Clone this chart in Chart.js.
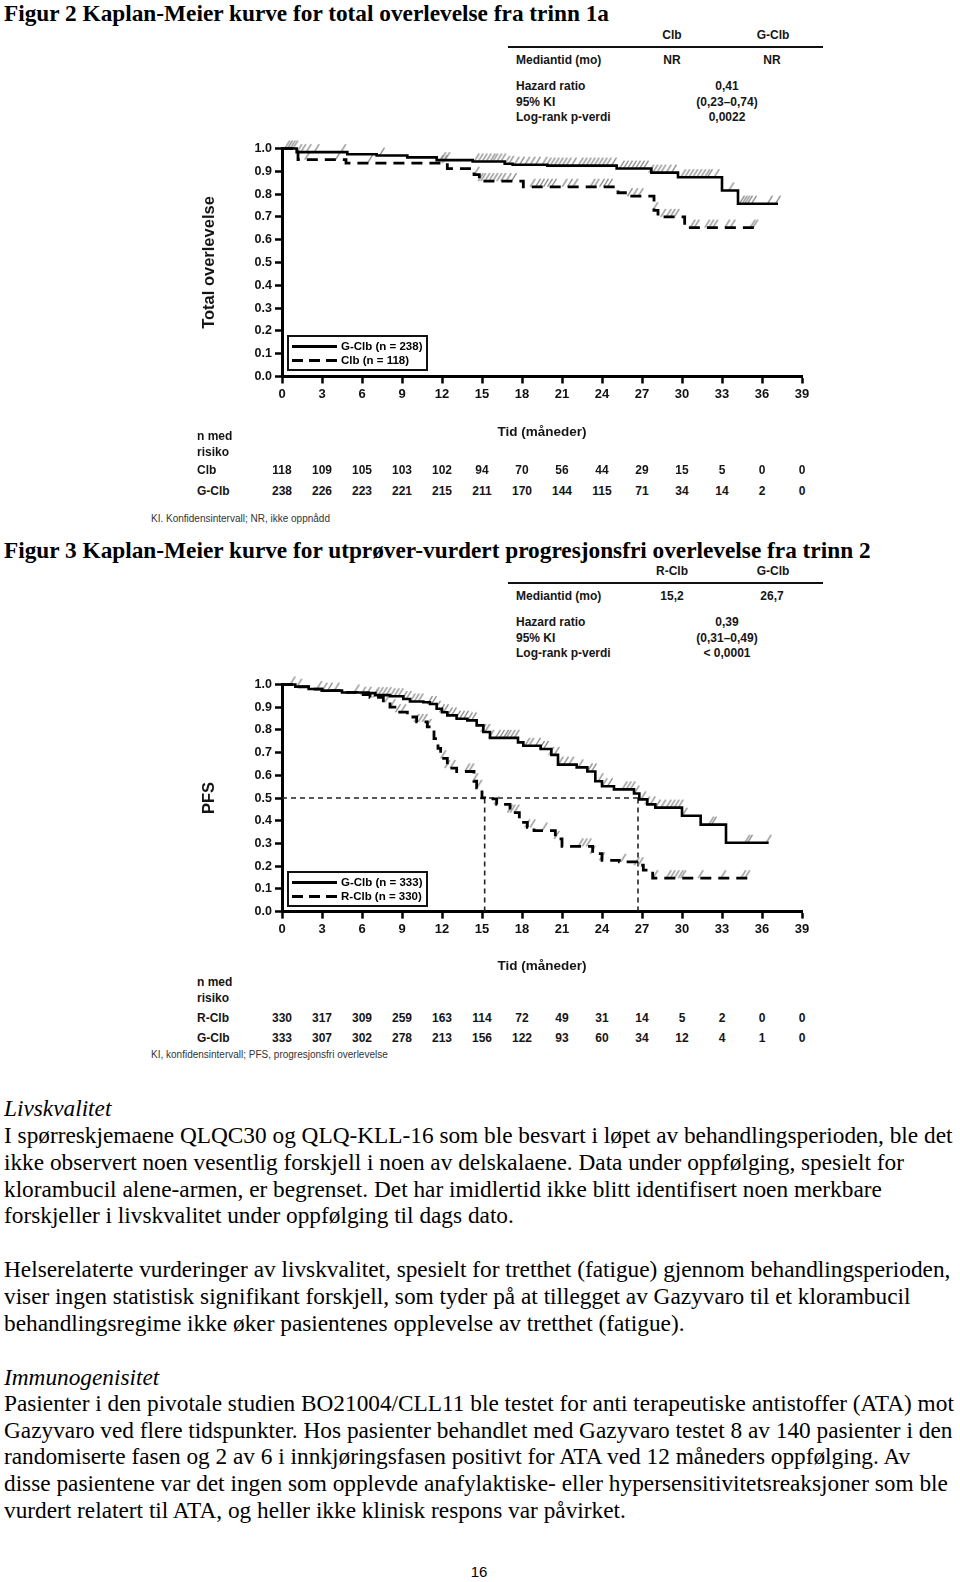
<!DOCTYPE html>
<html>
<head>
<meta charset="utf-8">
<script src="https://cdn.jsdelivr.net/npm/chart.js@4.4.0/dist/chart.umd.min.js"></script>
<style>
  body { margin: 0; background: #fff; }
  #page { position: relative; width: 960px; height: 1582px; overflow: hidden; font-family: "Liberation Serif", "Times New Roman", serif; color: #000; }
  .ab { position: absolute; white-space: nowrap; }
  .fig { font-weight: bold; font-size: 23.3px; line-height: 26px; }
  .txt { font-size: 23.3px; line-height: 26px; }
  .it { font-style: italic; }
  .sb { font-family: "Liberation Sans", Arial, sans-serif; font-weight: bold; font-size: 12px; line-height: 14px; color: #151515; }
  .note { font-family: "Liberation Sans", Arial, sans-serif; font-size: 10px; line-height: 12px; color: #333; }
  .leg { font-family: "Liberation Sans", Arial, sans-serif; font-weight: bold; font-size: 11.5px; line-height: 13px; }
  .pg { font-family: "Liberation Sans", Arial, sans-serif; font-size: 15px; line-height: 17px; }
  canvas { position: absolute; }
</style>
</head>
<body>
<div id="page">
  <canvas id="os" width="640" height="302" style="left:180px; top:138px;"></canvas>
  <canvas id="pfs" width="640" height="300" style="left:180px; top:674px;"></canvas>
</div>
<script>
// Figur 2: total overlevelse (steps: time in months, survival after the drop)
const osGclbTime = [0, 1.1, 4.9, 7.1, 9.4, 11.6, 14.3, 16.7, 17.3, 19.9, 25.1, 27.7, 29.7, 33.0, 34.2, 37.2];
const osGclbSurv = [1.0, 0.984, 0.975, 0.969, 0.961, 0.949, 0.943, 0.933, 0.929, 0.925, 0.912, 0.894, 0.874, 0.816, 0.758, 0.758];
const osClbTime = [0, 1.2, 4.8, 12.4, 14.4, 14.8, 18.1, 25.2, 25.9, 27.9, 28.2, 30.2, 35.5];
const osClbSurv = [1.0, 0.951, 0.936, 0.912, 0.885, 0.857, 0.832, 0.806, 0.791, 0.729, 0.700, 0.653, 0.653];
const osGclbCensor = [0.4, 0.6, 0.8, 1.0, 1.3, 1.6, 2.0, 2.6, 4.6, 7.5, 12.1, 12.4, 14.6, 14.9, 15.2, 15.5, 15.8, 16.0, 16.3, 16.6, 16.9, 17.2, 17.6, 18.0, 18.4, 18.8, 19.2, 19.7, 20.0, 20.3, 20.6, 20.9, 21.2, 21.5, 21.9, 22.4, 22.7, 23.0, 23.3, 23.6, 23.9, 24.2, 24.5, 24.9, 25.5, 25.8, 26.1, 26.4, 26.7, 27.0, 27.3, 27.7, 28.0, 28.3, 28.6, 29.0, 29.4, 30.1, 30.4, 30.7, 31.0, 31.3, 31.6, 31.9, 32.1, 32.6, 33.7, 34.5, 34.7, 34.9, 35.1, 35.4, 36.6, 37.2];
const osClbCensor = [1.9, 4.2, 6.6, 11.9, 12.2, 14.6, 14.9, 15.1, 15.4, 15.7, 16.0, 16.3, 16.6, 17.0, 17.4, 18.8, 19.2, 19.5, 19.8, 20.1, 20.4, 21.2, 21.6, 22.0, 23.3, 23.6, 24.0, 24.3, 24.6, 26.1, 26.5, 26.9, 28.0, 28.6, 29.0, 29.3, 29.6, 30.8, 31.1, 31.9, 32.2, 32.5, 33.4, 33.8, 35.3, 35.5];
const osRiskClb = [118, 109, 105, 103, 102, 94, 70, 56, 44, 29, 15, 5, 0, 0];
const osRiskGclb = [238, 226, 223, 221, 215, 211, 170, 144, 115, 71, 34, 14, 2, 0];

// Figur 3: progresjonsfri overlevelse
const pfsGclbTime = [0, 1.0, 2.0, 3.0, 4.5, 6.5, 7.0, 8.1, 9.1, 9.6, 10.6, 11.1, 11.6, 12.0, 12.4, 13.1, 13.9, 14.6, 15.1, 15.6, 17.7, 18.1, 19.4, 20.2, 20.7, 22.1, 22.9, 23.5, 24.0, 24.9, 26.4, 26.8, 27.4, 28.0, 30.0, 31.4, 33.3, 36.5];
const pfsGclbSurv = [1.0, 0.99, 0.98, 0.973, 0.965, 0.962, 0.953, 0.948, 0.936, 0.925, 0.922, 0.914, 0.893, 0.878, 0.864, 0.849, 0.842, 0.820, 0.791, 0.765, 0.745, 0.730, 0.716, 0.690, 0.647, 0.635, 0.617, 0.574, 0.552, 0.538, 0.520, 0.494, 0.472, 0.458, 0.422, 0.383, 0.303, 0.303];
const pfsRclbTime = [0, 1.0, 2.0, 3.0, 4.5, 5.6, 6.6, 7.6, 8.1, 8.6, 9.4, 10.1, 10.9, 11.4, 11.7, 11.9, 12.4, 13.1, 14.4, 14.6, 15.0, 15.2, 16.1, 17.1, 17.8, 18.4, 18.9, 20.5, 21.0, 23.3, 24.0, 25.3, 26.6, 27.1, 27.8, 35.0];
const pfsRclbSurv = [1.0, 0.99, 0.98, 0.973, 0.965, 0.955, 0.943, 0.922, 0.900, 0.878, 0.857, 0.835, 0.813, 0.762, 0.719, 0.675, 0.632, 0.617, 0.574, 0.545, 0.501, 0.496, 0.472, 0.436, 0.393, 0.371, 0.357, 0.320, 0.287, 0.255, 0.226, 0.219, 0.204, 0.183, 0.147, 0.147];
const pfsGclbCensor = [0.8, 1.3, 2.8, 3.2, 3.6, 4.1, 5.6, 7.1, 7.4, 7.7, 8.0, 8.3, 8.6, 8.9, 9.2, 9.5, 9.8, 10.1, 10.4, 11.1, 11.4, 11.7, 12.0, 12.3, 12.6, 12.9, 13.2, 13.5, 13.8, 14.1, 14.4, 15.1, 15.4, 15.7, 16.2, 16.5, 16.8, 17.0, 17.3, 17.6, 18.4, 18.7, 19.2, 19.5, 19.8, 20.2, 20.6, 20.9, 21.3, 21.7, 22.4, 23.1, 23.4, 23.9, 24.2, 24.6, 25.7, 26.0, 26.3, 26.6, 27.1, 27.4, 27.8, 28.2, 28.6, 29.0, 29.3, 29.6, 29.9, 30.2, 32.2, 32.4, 34.9, 35.1, 36.5];
const pfsRclbCensor = [6.1, 6.5, 7.0, 7.9, 8.3, 8.7, 9.1, 10.1, 10.4, 10.7, 11.0, 12.1, 12.4, 12.8, 13.9, 14.2, 14.5, 14.8, 16.1, 17.1, 17.3, 17.6, 18.4, 18.8, 19.7, 20.6, 22.4, 22.7, 23.0, 23.3, 24.0, 25.6, 26.6, 26.9, 28.0, 29.0, 29.3, 29.6, 29.9, 30.1, 31.4, 33.1, 34.6, 34.9];
const pfsMedians = [15.2, 26.7];
const pfsRiskRclb = [330, 317, 309, 259, 163, 114, 72, 49, 31, 14, 5, 2, 0, 0];
const pfsRiskGclb = [333, 307, 302, 278, 213, 156, 122, 93, 60, 34, 12, 4, 1, 0];

const monthTicks = [0, 3, 6, 9, 12, 15, 18, 21, 24, 27, 30, 33, 36, 39];

const bodyLines = [
  ["Livskvalitet", 1108, true],
  ["I spørreskjemaene QLQC30 og QLQ-KLL-16 som ble besvart i løpet av behandlingsperioden, ble det", 1135],
  ["ikke observert noen vesentlig forskjell i noen av delskalaene. Data under oppfølging, spesielt for", 1162],
  ["klorambucil alene-armen, er begrenset. Det har imidlertid ikke blitt identifisert noen merkbare", 1188.5],
  ["forskjeller i livskvalitet under oppfølging til dags dato.", 1215],
  ["Helserelaterte vurderinger av livskvalitet, spesielt for tretthet (fatigue) gjennom behandlingsperioden,", 1269],
  ["viser ingen statistisk signifikant forskjell, som tyder på at tillegget av Gazyvaro til et klorambucil", 1296],
  ["behandlingsregime ikke øker pasientenes opplevelse av tretthet (fatigue).", 1322.5],
  ["Immunogenisitet", 1376.5, true],
  ["Pasienter i den pivotale studien BO21004/CLL11 ble testet for anti terapeutiske antistoffer (ATA) mot", 1403],
  ["Gazyvaro ved flere tidspunkter. Hos pasienter behandlet med Gazyvaro testet 8 av 140 pasienter i den", 1429.5],
  ["randomiserte fasen og 2 av 6 i innkjøringsfasen positivt for ATA ved 12 måneders oppfølging. Av", 1456],
  ["disse pasientene var det ingen som opplevde anafylaktiske- eller hypersensitivitetsreaksjoner som ble", 1483],
  ["vurdert relatert til ATA, og heller ikke klinisk respons var påvirket.", 1509.5]
];

const page = document.getElementById("page");

// text placed by its vertical centre
function place(text, x, y, cls, align) {
  const d = document.createElement("div");
  d.className = "ab " + cls;
  d.textContent = text;
  d.style.left = x + "px";
  d.style.top = y + "px";
  if (align === "center") d.style.transform = "translate(-50%, -50%)";
  else d.style.transform = "translateY(-50%)";
  page.appendChild(d);
  return d;
}

function box(x, y, w, h, css) {
  const d = document.createElement("div");
  d.className = "ab";
  d.style.cssText += `left:${x}px;top:${y}px;width:${w}px;height:${h}px;` + css;
  page.appendChild(d);
}

const survAt = (times, surv, t) => {
  let s = surv[0];
  for (let i = 0; i < times.length; i++) if (times[i] <= t) s = surv[i];
  return s;
};
const steps = (times, surv) => times.map((t, i) => ({ x: t, y: surv[i] }));
const censored = (times, surv, cens) => cens.map((t) => ({ x: t, y: survAt(times, surv, t) }));

// grey "/" tick above the curve for censored patients
function slashMark() {
  const c = document.createElement("canvas");
  c.width = 8;
  c.height = 18;
  const g = c.getContext("2d");
  g.strokeStyle = "#858585";
  g.lineWidth = 1.4;
  g.beginPath();
  g.moveTo(1.5, 9);
  g.lineTo(6.5, 1);
  g.stroke();
  return c;
}
const mark = slashMark();

Chart.defaults.font.family = '"Liberation Sans", Arial, sans-serif';
Chart.defaults.color = "#111";

function makeKM(id, yTitle, plotTop, axisH, datasets) {
  return new Chart(document.getElementById(id), {
    type: "line",
    data: { datasets: datasets },
    options: {
      responsive: false,
      animation: false,
      events: [],
      layout: { padding: { top: plotTop, right: 18, left: 0, bottom: 0 } },
      plugins: { legend: { display: false }, tooltip: { enabled: false } },
      scales: {
        x: {
          type: "linear",
          min: 0,
          max: 39,
          afterFit: (s) => { s.height = axisH; },
          ticks: { stepSize: 3, autoSkip: false, maxTicksLimit: 20, maxRotation: 0, padding: 3, color: "#111", font: { size: 13, weight: "bold" } },
          grid: { drawOnChartArea: false, drawTicks: true, tickLength: 7, tickWidth: 2.5, tickColor: "#000" },
          border: { display: true, width: 3, color: "#000" },
          title: { display: true, text: "Tid (måneder)", color: "#151515", font: { size: 13.5, weight: "bold" }, padding: { top: 0, bottom: 0 } }
        },
        y: {
          min: 0,
          max: 1,
          afterFit: (s) => { s.width = 102; },
          ticks: { stepSize: 0.1, padding: 3, color: "#111", font: { size: 12.5, weight: "bold" }, callback: (v) => v.toFixed(1) },
          grid: { drawOnChartArea: false, drawTicks: true, tickLength: 7, tickWidth: 2.5, tickColor: "#000" },
          border: { display: true, width: 3, color: "#000" },
          title: { display: true, text: yTitle, color: "#151515", font: { size: 16.5, weight: "bold" }, padding: { top: 20, bottom: 0 } }
        }
      }
    }
  });
}

const curve = (data, dashed) => ({
  data: data,
  stepped: true,
  borderColor: "#000",
  borderWidth: dashed ? 2.8 : 2.6,
  borderDash: dashed ? [11, 7] : [],
  pointRadius: 0,
  fill: false,
  clip: false
});
const marks = (data) => ({ type: "scatter", data: data, pointStyle: mark, pointRadius: 5, clip: false });
const refLine = (data) => ({ data: data, borderColor: "#222", borderWidth: 1.6, borderDash: [5, 4], pointRadius: 0, fill: false });

const osChart = makeKM("os", "Total overlevelse", 8.5, 63.5, [
  curve(steps(osGclbTime, osGclbSurv), false),
  curve(steps(osClbTime, osClbSurv), true),
  marks(censored(osGclbTime, osGclbSurv, osGclbCensor)),
  marks(censored(osClbTime, osClbSurv, osClbCensor))
]);

const pfsChart = makeKM("pfs", "PFS", 7.7, 62.4, [
  curve(steps(pfsGclbTime, pfsGclbSurv), false),
  curve(steps(pfsRclbTime, pfsRclbSurv), true),
  marks(censored(pfsGclbTime, pfsGclbSurv, pfsGclbCensor)),
  marks(censored(pfsRclbTime, pfsRclbSurv, pfsRclbCensor)),
  refLine([{ x: 0, y: 0.5 }, { x: pfsMedians[1], y: 0.5 }]),
  refLine([{ x: pfsMedians[0], y: 0 }, { x: pfsMedians[0], y: 0.5 }]),
  refLine([{ x: pfsMedians[1], y: 0 }, { x: pfsMedians[1], y: 0.5 }])
]);

// number-at-risk rows aligned to the x ticks
function riskRow(chart, canvasLeft, label, values, y) {
  place(label, 197, y, "sb");
  values.forEach((v, i) => {
    place(String(v), canvasLeft + chart.scales.x.getPixelForValue(monthTicks[i]), y, "sb", "center");
  });
}

function legend(top, items) {
  box(287, top, 137, 32, "border:2px solid #111;");
  items.forEach((it, i) => {
    const y = top + 11 + i * 14;
    const bg = it.dashed
      ? "background:repeating-linear-gradient(90deg,#000 0 11px,transparent 11px 17px);"
      : "background:#000;";
    box(292, y - 1.5, 45, 3, bg);
    place(it.text, 341, y, "leg");
  });
}

function statTable(y0, heads, medians, hr, ci, p) {
  place(heads[0], 672, y0, "sb", "center");
  place(heads[1], 773, y0, "sb", "center");
  box(508, y0 + 11, 315, 2, "background:#111;");
  place("Mediantid (mo)", 516, y0 + 25, "sb");
  place(medians[0], 672, y0 + 25, "sb", "center");
  place(medians[1], 772, y0 + 25, "sb", "center");
  place("Hazard ratio", 516, y0 + 51, "sb");
  place("95% KI", 516, y0 + 66.5, "sb");
  place("Log-rank p-verdi", 516, y0 + 82, "sb");
  place(hr, 727, y0 + 51, "sb", "center");
  place(ci, 727, y0 + 66.5, "sb", "center");
  place(p, 727, y0 + 82, "sb", "center");
}

// Figur 2
place("Figur 2 Kaplan-Meier kurve for total overlevelse fra trinn 1a", 4, 13, "fig");
statTable(35, ["Clb", "G-Clb"], ["NR", "NR"], "0,41", "(0,23–0,74)", "0,0022");
legend(335, [{ text: "G-Clb (n = 238)" }, { text: "Clb (n = 118)", dashed: true }]);
place("n med", 197, 436, "sb");
place("risiko", 197, 451.5, "sb");
riskRow(osChart, 180, "Clb", osRiskClb, 470);
riskRow(osChart, 180, "G-Clb", osRiskGclb, 491);
place("KI. Konfidensintervall; NR, ikke oppnådd", 151, 519, "note");

// Figur 3
place("Figur 3 Kaplan-Meier kurve for utprøver-vurdert progresjonsfri overlevelse fra trinn 2", 4, 550, "fig");
statTable(571, ["R-Clb", "G-Clb"], ["15,2", "26,7"], "0,39", "(0,31–0,49)", "< 0,0001");
legend(871, [{ text: "G-Clb (n = 333)" }, { text: "R-Clb (n = 330)", dashed: true }]);
place("n med", 197, 982, "sb");
place("risiko", 197, 997.5, "sb");
riskRow(pfsChart, 180, "R-Clb", pfsRiskRclb, 1017.5);
riskRow(pfsChart, 180, "G-Clb", pfsRiskGclb, 1038);
place("KI, konfidensintervall;  PFS, progresjonsfri overlevelse", 151, 1055, "note");

// body text
bodyLines.forEach(([t, y, italic]) => place(t, 4, y, italic ? "txt it" : "txt"));
place("16", 479, 1571, "pg", "center");
</script>
</body>
</html>
